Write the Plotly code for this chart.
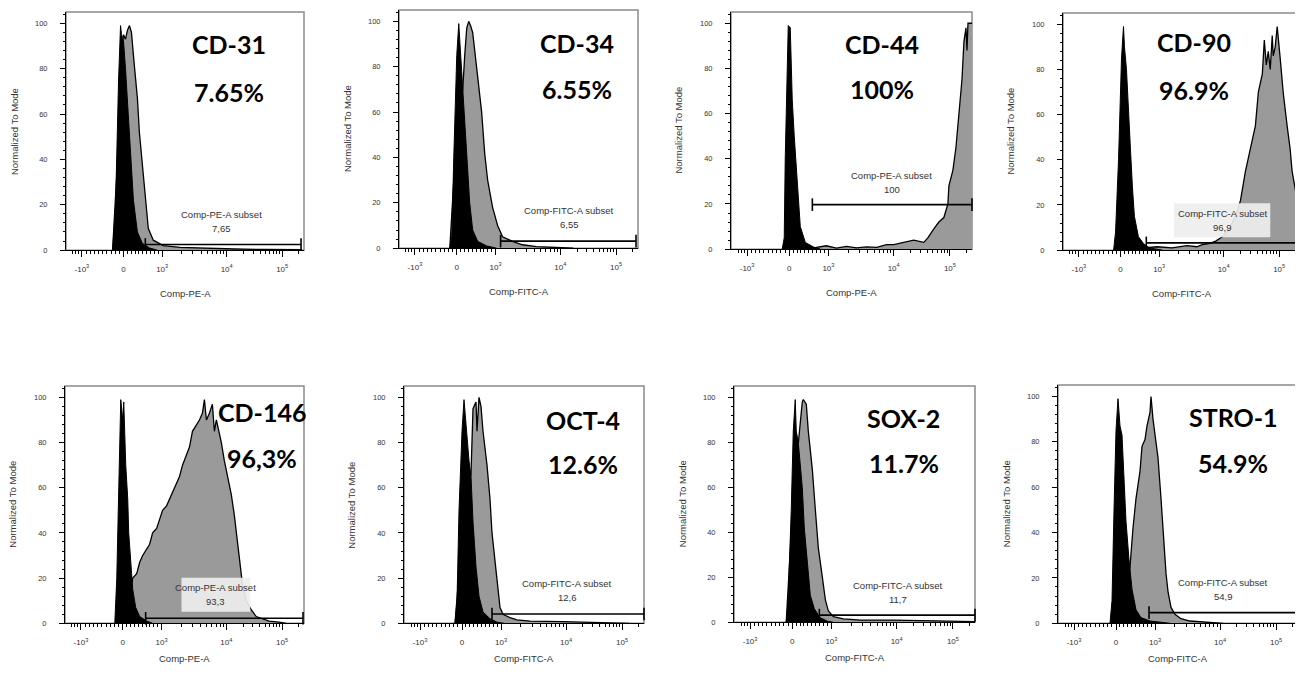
import numpy as np
import plotly.graph_objects as go
from plotly.subplots import make_subplots

# Panel labels and gate results.
MARKERS = ["CD-31", "CD-34", "CD-44", "CD-90", "CD-146", "OCT-4", "SOX-2", "STRO-1"]
PERCENTS = ["7.65%", "6.55%", "100%", "96.9%", "96,3%", "12.6%", "11.7%", "54.9%"]
SUBSET_VALUES = ["7,65", "6,55", "100", "96,9", "93,3", "12,6", "11,7", "54,9"]
CHANNELS = ["Comp-PE-A", "Comp-FITC-A", "Comp-PE-A", "Comp-FITC-A",
            "Comp-PE-A", "Comp-FITC-A", "Comp-FITC-A", "Comp-FITC-A"]

# Gate bars (display channel units, % of mode).
GATE_START = [80, 102, 81, 84, 81, 88, 85, 91]
GATE_END = [237, 238, 240, 240, 239, 240, 240, 239]
GATE_LEVEL = [2.5, 3.1, 19.7, 3.2, 2.2, 4.1, 3.2, 4.7]

# Biexponential axis: tick channels and labels.
TICK_POS = [16, 58, 97, 162, 218]
TICK_TEXT = ["-10<sup>3</sup>", "0", "10<sup>3</sup>", "10<sup>4</sup>", "10<sup>5</sup>"]

# Histograms: isotype control (black) and stained sample (grey).
cd31_iso_x = [47, 50, 53, 55, 56, 58, 60, 62, 65, 68, 72, 77, 84, 92]
cd31_iso_y = [0, 20, 75, 99, 95, 92, 80, 66, 45, 22, 8, 3, 1, 0]
cd31_x = [47, 52, 56, 58, 60, 62, 64, 66, 69, 72, 74, 77, 80, 83, 88, 98, 115, 140, 170, 200, 238]
cd31_y = [0, 40, 88, 95, 93, 97, 99, 96, 81, 67, 52, 37, 23, 9.5, 4.4, 2, 1.2, 0.8, 0.5, 0.3, 0.2]

cd34_iso_x = [51, 53, 55, 58, 60, 62, 64, 68, 71, 74, 79, 88, 98]
cd34_iso_y = [0, 5, 40, 85, 99, 84, 70, 40, 20, 8, 3, 1, 0]
cd34_x = [51, 55, 60, 64, 66, 68, 70, 72, 74, 78, 83, 86, 89, 94, 99, 104, 114, 124, 138, 158, 175]
cd34_y = [0, 30, 55, 70, 85, 97, 100, 98, 95, 80, 60, 42, 30, 18, 10, 5, 3, 1.5, 0.7, 0.3, 0]

cd44_iso_x = [51, 53, 54, 56, 57, 59, 61, 63, 65, 69, 74, 82, 89]
cd44_iso_y = [0, 5, 40, 85, 99, 98, 66, 50, 37, 10, 3, 1, 0]
cd44_x = [55, 70, 85, 95, 105, 115, 125, 135, 145, 155, 162, 172, 182, 192, 196, 202, 207, 212,
          216, 217, 221, 224, 227, 230, 232, 234, 235, 236, 240]
cd44_y = [0, 0.5, 0.8, 1.5, 0.5, 1.2, 0.6, 1.0, 0.8, 2.0, 2, 3, 4, 3, 5, 9, 12, 14,
          20, 28, 35, 45, 60, 75, 92, 98, 88, 100, 100]

cd90_iso_x = [51, 53, 56, 59, 61, 62, 64, 66, 68, 70, 72, 76, 81, 87, 94, 100]
cd90_iso_y = [0, 8, 40, 85, 99, 90, 80, 65, 45, 28, 15, 6, 3, 1, 0.5, 0]
cd90_x = [55, 80, 95, 110, 125, 135, 141, 148, 154, 161, 167, 174, 179, 184, 189, 194, 197, 201,
          203, 205, 207, 209, 211, 212, 214, 216, 219, 222, 226, 229, 231, 234, 237, 240]
cd90_y = [0, 1, 1.5, 1, 2, 1.5, 2.5, 3, 4, 6, 9, 15, 22, 35, 45, 55, 70, 78,
          93, 82, 88, 80, 95, 86, 90, 99, 85, 70, 55, 45, 35, 28, 20, 18]

cd146_iso_x = [50, 52, 54, 56, 58, 59, 61, 63, 64, 66, 68, 71, 75, 82, 88]
cd146_iso_y = [0, 20, 60, 99, 90, 98, 70, 55, 40, 25, 15, 7, 3, 1, 0]
cd146_x = [52, 60, 66, 68, 72, 75, 78, 82, 85, 88, 92, 95, 98, 102, 105, 108, 112, 115, 118, 122,
           125, 128, 132, 135, 138, 140, 142, 145, 148, 150, 152, 154, 157, 160, 163, 167, 170,
           172, 175, 178, 182, 187, 192, 198, 205, 215, 222]
cd146_y = [0, 8, 15, 20, 22, 27, 30, 33, 35, 40, 42, 46, 50, 52, 55, 58, 62, 65, 70, 75,
           78, 85, 88, 90, 93, 99, 90, 93, 97, 85, 90, 86, 80, 72, 65, 57, 48,
           40, 28, 18, 10, 6, 3, 2, 1, 0.5, 0]

oct4_iso_x = [51, 53, 55, 58, 60, 62, 63, 65, 67, 69, 72, 75, 79, 86, 93, 100]
oct4_iso_y = [0, 10, 50, 85, 99, 87, 80, 72, 65, 45, 25, 12, 5, 2, 0.5, 0]
oct4_x = [51, 56, 60, 64, 67, 69, 72, 73, 75, 77, 79, 83, 86, 88, 91, 94, 96, 99, 106, 113,
          126, 159, 186, 209, 225]
oct4_y = [0, 30, 50, 60, 66, 95, 98, 85, 100, 96, 85, 70, 55, 40, 28, 15, 7, 4, 2.5, 1.5,
          1, 0.7, 0.5, 0.3, 0]

sox2_iso_x = [52, 54, 57, 59, 61, 62, 64, 65, 68, 70, 73, 76, 80, 86, 93, 99]
sox2_iso_y = [0, 10, 50, 85, 99, 85, 80, 75, 60, 42, 25, 12, 6, 2, 0.5, 0]
sox2_x = [52, 57, 62, 64, 66, 68, 69, 72, 74, 78, 81, 84, 88, 91, 94, 99, 109, 126, 159, 193, 226, 240]
sox2_y = [0, 40, 70, 80, 90, 98, 99, 97, 85, 68, 50, 33, 20, 10, 5, 2.5, 1.5, 1, 1, 0.8, 0.5, 0.3]

stro1_iso_x = [52, 54, 56, 58, 60, 62, 64, 66, 68, 71, 74, 78, 83, 92, 105, 112]
stro1_iso_y = [0, 10, 50, 85, 99, 87, 83, 65, 45, 28, 15, 6, 2.5, 1, 0.3, 0]
stro1_x = [60, 65, 68, 72, 75, 78, 82, 84, 87, 89, 92, 93, 95, 97, 100, 103, 105, 108, 110, 113,
           117, 123, 132, 145, 158, 165]
stro1_y = [0, 3, 10, 25, 42, 55, 67, 78, 81, 87, 93, 100, 90, 83, 73, 55, 40, 22, 14, 7,
           4, 2, 1, 0.6, 0.3, 0]

HISTOGRAMS = [
    (cd31_iso_x, cd31_iso_y, cd31_x, cd31_y),
    (cd34_iso_x, cd34_iso_y, cd34_x, cd34_y),
    (cd44_iso_x, cd44_iso_y, cd44_x, cd44_y),
    (cd90_iso_x, cd90_iso_y, cd90_x, cd90_y),
    (cd146_iso_x, cd146_iso_y, cd146_x, cd146_y),
    (oct4_iso_x, oct4_iso_y, oct4_x, oct4_y),
    (sox2_iso_x, sox2_iso_y, sox2_x, sox2_y),
    (stro1_iso_x, stro1_iso_y, stro1_x, stro1_y),
]

# Layout: the page puts the figure 8 px in from the top-left corner, so the
# figure is shrunk to fit the window and the panel boxes (screen pixels) are shifted.
PAGE_OFFSET = 8
W, H = 1303 - PAGE_OFFSET, 674 - 2 * PAGE_OFFSET
BOXES = [(66, 304, 12, 252), (399, 638, 10, 250), (731, 972, 12, 251), (1063, 1301, 13, 252),
         (65, 304, 389, 628), (404, 644, 389, 628), (734, 975, 389, 627), (1058, 1298, 388, 628)]
TEXT_POS = [
    dict(tx=164, ty=90.8, py=69.7, sx=157, sy=15.7),
    dict(tx=179, ty=90.4, py=70.0, sx=171, sy=16.5),
    dict(tx=150, ty=91.0, py=70.7, sx=160, sy=32.8),
    dict(tx=132, ty=92.0, py=70.7, sx=161, sy=16.4),
    dict(tx=198, ty=93.7, py=73.0, sx=151, sy=15.7),
    dict(tx=179, ty=90.0, py=70.3, sx=163, sy=17.6),
    dict(tx=169, ty=91.0, py=70.6, sx=163, sy=16.5),
    dict(tx=175, ty=91.0, py=70.5, sx=165, sy=18.1),
]
LABEL_BOXES = {3: (112, 209, 5.7, 20.8), 4: (117, 186, 5.1, 20.2)}
X_TITLE_OFFSET = [44, 44, 44, 44, 35, 35, 35, 35]  # px below the axis

X_RANGE = [0, 240]
Y_RANGE = [0, 105]


def decade_ticks(a, b):
    return [a + (b - a) * np.log10(k) for k in range(2, 10)]


minor_x = ([7, 10, 13]
           + [16 + 4.2 * k for k in range(1, 10)]
           + [58 + 3.9 * k for k in range(1, 10)]
           + decade_ticks(97, 162) + decade_ticks(162, 218) + decade_ticks(218, 274)[:1])

TEXT_COLOR = "#333333"
SMALL_FONT = "Liberation Sans, Arial, sans-serif"

fig = make_subplots(rows=2, cols=4)

annotations = []
shapes = []
for i in range(8):
    row, col = i // 4 + 1, i % 4 + 1
    iso_x, iso_y, smp_x, smp_y = HISTOGRAMS[i]

    # Stained sample first, isotype control drawn over it.
    fig.add_trace(go.Scatter(x=smp_x, y=smp_y, mode="lines", fill="tozeroy",
                             fillcolor="#9a9a9a", line=dict(color="black", width=1.3),
                             hoverinfo="skip"), row=row, col=col)
    fig.add_trace(go.Scatter(x=iso_x, y=iso_y, mode="lines", fill="tozeroy",
                             fillcolor="black", line=dict(color="black", width=1),
                             hoverinfo="skip"), row=row, col=col)
    # Gate bar.
    fig.add_trace(go.Scatter(x=[GATE_START[i], GATE_END[i]], y=[GATE_LEVEL[i]] * 2,
                             mode="lines+markers", cliponaxis=False,
                             line=dict(color="black", width=1.6),
                             marker=dict(symbol="line-ns", size=9,
                                         line=dict(color="black", width=1.6)),
                             hoverinfo="skip"), row=row, col=col)

    n = "" if i == 0 else str(i + 1)
    xa, ya = "x" + n, "y" + n
    left, right, top, bottom = [v - PAGE_OFFSET for v in BOXES[i]]
    fig.layout["xaxis" + n].domain = [left / W, min(right / W, 1)]
    fig.layout["yaxis" + n].domain = [1 - bottom / H, 1 - top / H]
    box_h = bottom - top

    pos = TEXT_POS[i]
    if i in LABEL_BOXES:
        bx0, bx1, by0, by1 = LABEL_BOXES[i]
        shapes.append(dict(type="rect", xref=xa, yref=ya, x0=bx0, x1=bx1, y0=by0, y1=by1,
                           fillcolor="rgba(238,238,238,0.92)", line=dict(width=0),
                           layer="above"))
    shapes.append(dict(type="rect", xref=xa + " domain", yref=ya + " domain",
                       x0=0, x1=1, y0=0, y1=1, line=dict(color="#8a8a8a", width=1.5),
                       layer="below"))

    big = dict(family="Lato, Open Sans, sans-serif", size=25, color="black")
    small = dict(family=SMALL_FONT, size=9.5, color=TEXT_COLOR)
    annotations += [
        dict(x=pos["tx"], y=pos["ty"], xref=xa, yref=ya, text=f"<b>{MARKERS[i]}</b>",
             showarrow=False, font=big),
        dict(x=pos["tx"], y=pos["py"], xref=xa, yref=ya, text=f"<b>{PERCENTS[i]}</b>",
             showarrow=False, font=big),
        dict(x=pos["sx"], y=pos["sy"], xref=xa, yref=ya,
             text=f"{CHANNELS[i]} subset", showarrow=False, font=small),
        dict(x=pos["sx"], y=pos["sy"] - 6.2, xref=xa, yref=ya,
             text=SUBSET_VALUES[i], showarrow=False, font=small),
        dict(x=0.5, y=-X_TITLE_OFFSET[i] / box_h, xref=xa + " domain", yref=ya + " domain",
             text=CHANNELS[i], showarrow=False, font=small, yanchor="middle"),
        dict(x=-52 / (right - left), y=0.5, xref=xa + " domain", yref=ya + " domain",
             text="Normalized To Mode", textangle=-90, showarrow=False, font=small,
             xanchor="center"),
    ]

fig.update_xaxes(
    range=X_RANGE, tickmode="array", tickvals=TICK_POS, ticktext=TICK_TEXT,
    ticks="outside", ticklen=6, tickwidth=1, tickcolor="black",
    showline=True, linecolor="black", linewidth=1, showgrid=False, zeroline=False,
    tickfont=dict(family=SMALL_FONT, size=8, color=TEXT_COLOR), ticklabelstandoff=5,
    minor=dict(tickmode="array", tickvals=minor_x, ticks="outside", ticklen=3,
               tickcolor="black", showgrid=False),
)
fig.update_yaxes(
    range=Y_RANGE, tickmode="array", tickvals=[0, 20, 40, 60, 80, 100],
    ticks="outside", ticklen=5, tickwidth=1, tickcolor="black",
    showline=True, linecolor="black", linewidth=1, showgrid=False, zeroline=False,
    tickfont=dict(family=SMALL_FONT, size=7.5, color=TEXT_COLOR), ticklabelstandoff=11,
    minor=dict(dtick=4, tick0=0, ticks="outside", ticklen=2.5, tickcolor="black",
               showgrid=False),
)

fig.update_layout(
    width=W, height=H, margin=dict(l=0, r=0, t=0, b=0),
    paper_bgcolor="white", plot_bgcolor="white", showlegend=False,
    annotations=annotations, shapes=shapes,
)

fig.write_html("out.html")
